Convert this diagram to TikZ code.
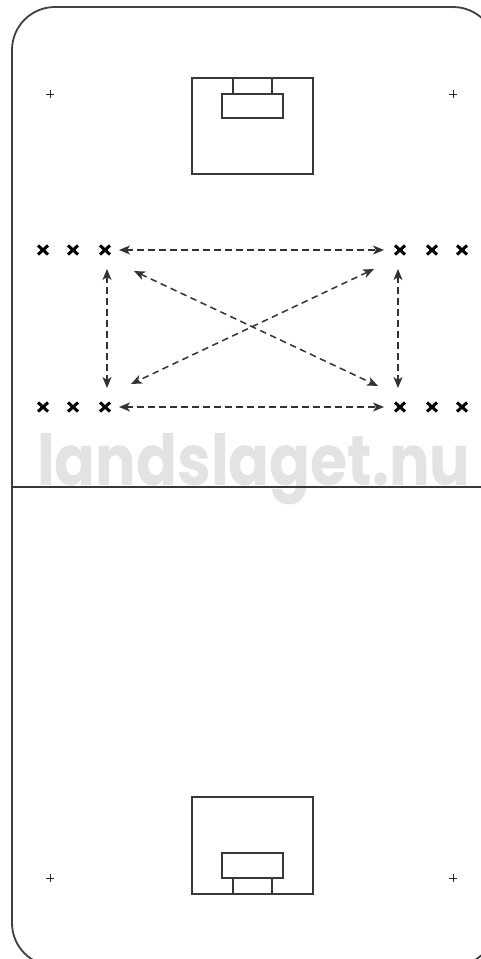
\documentclass[tikz,border=0pt]{standalone}
\usepackage{fontspec}
\usepackage{graphicx}
\newfontfamily\wmfont{Poppins}
\usetikzlibrary{arrows.meta}
\begin{document}
\begin{tikzpicture}[x=1pt,y=-1pt,
  rink/.style={line width=1.8pt, draw=black!75},
  rinkline/.style={line width=1.6pt, draw=black!78},
  spot/.style={line width=1pt, draw=black!85},
  player/.style={inner sep=0pt, minimum size=10pt},
  xmark/.style={line width=3pt, draw=black},
  pass/.style={line width=1.5pt, draw=black!80, dash pattern=on 6.5pt off 4.5pt,
    {Stealth[length=11pt,width=9pt,inset=3pt]}-{Stealth[length=11pt,width=9pt,inset=3pt]}}]
\useasboundingbox (0,0) rectangle (481,959);
\fill[white] (0,0) rectangle (481,959);
% watermark
\node[anchor=base west, inner sep=0pt, text=black!11] (wm) at (37,485)
  {\resizebox{433pt}{52pt}{\wmfont\bfseries landslaget.nu}};
% rink
\draw[rink, rounded corners=43pt] (12,7) rectangle (496,966);
\draw[rinkline] (12,487) -- (496,487);
% top goal
\draw[rinkline] (192,78) rectangle (313,174);
\draw[rinkline] (222,94) rectangle (283,118);
\draw[rinkline] (233,78) -- (233,94) (272,78) -- (272,94);
% bottom goal
\draw[rinkline] (192,797) rectangle (313,894);
\draw[rinkline] (222,853) rectangle (283,878);
\draw[rinkline] (233,878) -- (233,894) (272,878) -- (272,894);
% spots
\foreach \p/\q in {50/94, 453/94, 50/878, 453/878}
  \draw[spot] (\p-4,\q) -- (\p+4,\q) (\p,\q-4) -- (\p,\q+4);
% players
\foreach \n/\x in {1/43, 2/73, 3/105, 4/400, 5/432, 6/462} {
  \node[player] (t\n) at (\x,250) {};
  \node[player] (b\n) at (\x,407) {};
  \draw[xmark] (t\n) +(-5,-4.5) -- +(5,4.5) (t\n) +(-5,4.5) -- +(5,-4.5);
  \draw[xmark] (b\n) +(-5,-4.5) -- +(5,4.5) (b\n) +(-5,4.5) -- +(5,-4.5);
}
% pass ends
\coordinate (th1) at (119,250); \coordinate (th2) at (384,250);
\coordinate (bh1) at (119,407); \coordinate (bh2) at (384,407);
\coordinate (lv1) at (107,269); \coordinate (lv2) at (107,388);
\coordinate (rv1) at (398,269); \coordinate (rv2) at (398,388);
\coordinate (d1a) at (134,271); \coordinate (d1b) at (378,386);
\coordinate (d2a) at (374,269); \coordinate (d2b) at (131,384);
\draw[pass] (th1) -- (th2);
\draw[pass] (bh1) -- (bh2);
\draw[pass] (lv1) -- (lv2);
\draw[pass] (rv1) -- (rv2);
\draw[pass] (d1a) -- (d1b);
\draw[pass] (d2a) -- (d2b);
\end{tikzpicture}
\end{document}
